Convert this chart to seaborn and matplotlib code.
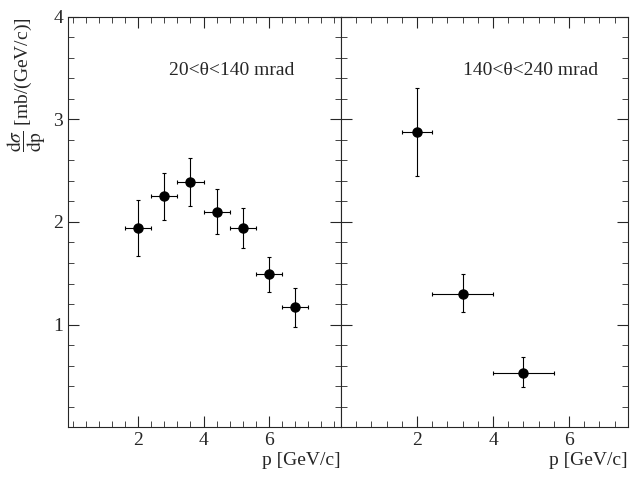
import numpy as np
import seaborn as sns
import matplotlib.pyplot as plt
from matplotlib.ticker import MultipleLocator

sns.set_style("ticks")
plt.rcParams['font.family'] = ['Liberation Serif', 'DejaVu Serif']
plt.rcParams['mathtext.fontset'] = 'stix'

# 20 < theta < 140 mrad
p_lo = [2.0, 2.8, 3.6, 4.4, 5.2, 6.0, 6.8]
dp_lo = [0.4, 0.4, 0.4, 0.4, 0.4, 0.4, 0.4]
xs_lo = [1.94, 2.25, 2.39, 2.10, 1.94, 1.49, 1.17]
err_lo_dn = [0.27, 0.23, 0.23, 0.22, 0.19, 0.17, 0.19]
err_lo_up = [0.27, 0.23, 0.23, 0.22, 0.20, 0.17, 0.19]

# 140 < theta < 240 mrad
p_hi = [2.0, 3.2, 4.8]
dp_hi = [0.4, 0.8, 0.8]
xs_hi = [2.88, 1.30, 0.53]
err_hi_dn = [0.43, 0.18, 0.14]
err_hi_up = [0.43, 0.19, 0.15]

fig = plt.figure(figsize=(6.3, 4.79), dpi=100)
ax1 = fig.add_axes([68/630, 52/479, 273/630, 410/479])
ax2 = fig.add_axes([341/630, 52/479, 287/630, 410/479], sharey=ax1)

panels = [
    (ax1, p_lo, dp_lo, xs_lo, err_lo_dn, err_lo_up, (-0.14, 8.2), "20<θ<140 mrad", 0.37),
    (ax2, p_hi, dp_hi, xs_hi, err_hi_dn, err_hi_up, (0, 7.55), "140<θ<240 mrad", 0.425),
]
for ax, x, xe, y, ed, eu, xl, label, tx in panels:
    ax.errorbar(x, y, xerr=xe, yerr=[ed, eu], fmt='o', color='black',
                ms=6.5, elinewidth=0.8, capsize=1.5, capthick=0.8)
    ax.set_xlim(*xl)
    ax.set_ylim(0, 4)
    ax.xaxis.set_major_locator(MultipleLocator(2))
    ax.xaxis.set_minor_locator(MultipleLocator(0.4))
    ax.yaxis.set_major_locator(MultipleLocator(1))
    ax.yaxis.set_minor_locator(MultipleLocator(0.2))
    ax.tick_params(which='both', direction='in', top=True, right=True, labelsize=14)
    ax.tick_params(which='major', length=8)
    ax.tick_params(which='minor', length=4)
    ax.set_xticks([2, 4, 6])
    ax.set_xlabel("p [GeV/c]", fontsize=14, loc='right', labelpad=2)
    ax.text(tx, 0.87, label, transform=ax.transAxes, fontsize=14, va='center')
    for s in ax.spines.values():
        s.set_linewidth(0.8)

ax1.set_yticks([1, 2, 3, 4])
ax1.set_ylabel(r"$\dfrac{\mathrm{d}\sigma}{\mathrm{dp}}$ [mb/(GeV/c)]", fontsize=14, loc='top', labelpad=4)
ax2.tick_params(labelleft=False)

fig.savefig("out.png", dpi=100)
